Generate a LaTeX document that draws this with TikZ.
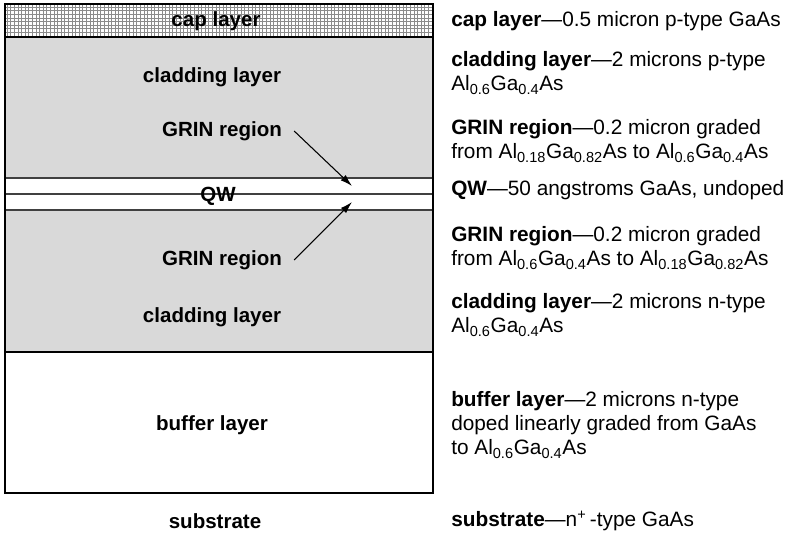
\documentclass[tikz,border=0pt]{standalone}
\usepackage{fontspec}
\setmainfont{Liberation Sans}
\usetikzlibrary{arrows.meta}
\begin{document}
\begin{tikzpicture}[x=0.75pt,y=-0.75pt,
  lbl/.style={font=\fontsize{15.4}{18}\selectfont\bfseries, inner sep=0pt},
  desc/.style={font=\fontsize{15.6}{18}\selectfont, align=left, anchor=west, inner sep=0pt},
  edge/.style={draw=black, line width=1.5pt},
  thin/.style={draw=black!75, line width=1.2pt},
  grinarrow/.style={draw=black, line width=0.8pt, -{Latex[length=9pt,width=5.5pt]}}]
\useasboundingbox (0,0) rectangle (798,540);
% fills
\fill[white] (5,4) rectangle (433,37);
\foreach \x in {7,10.6,...,433} \draw[black!45, line width=0.45pt] (\x,4) -- (\x,37);
\foreach \y in {7,10.6,...,37} \draw[black!45, line width=0.45pt] (5,\y) -- (433,\y);
\fill[black!15] (5,37) rectangle (433,178);
\fill[black!15] (5,210) rectangle (433,352);
% layer boundaries
\draw[edge] (5,37) -- (433,37);
\draw[thin] (5,178) -- (433,178);
\draw[thin] (5,194) -- (433,194);
\draw[thin] (5,210) -- (433,210);
\draw[edge] (5,352) -- (433,352);
\draw[edge] (5,4) rectangle (433,493);
% left labels
\node[lbl] (cap) at (216,21) {cap layer};
\node[lbl] (cladtop) at (212,77) {cladding layer};
\node[lbl] (grintop) at (222,131) {GRIN region};
\node[lbl] (qw) at (218,196) {QW};
\node[lbl] (grinbot) at (222,260) {GRIN region};
\node[lbl] (cladbot) at (212,317) {cladding layer};
\node[lbl] (buffer) at (212,425) {buffer layer};
\node[lbl] (substrate) at (215,521) {substrate};
% arrows
\coordinate (tiptop) at (352,186);
\coordinate (tipbot) at (352,202);
\draw[grinarrow] ([xshift=9pt]grintop.east) -- (tiptop);
\draw[grinarrow] ([xshift=9pt]grinbot.east) -- (tipbot);
% descriptions
\node[desc] (dcap) at (451,21) {\textbf{cap layer}—0.5 micron p-type GaAs};
\node[desc] (dcladtop) at (451,73) {\textbf{cladding layer}—2 microns p-type\\Al\textsubscript{0.6}Ga\textsubscript{0.4}As};
\node[desc] (dgrintop) at (451,141) {\textbf{GRIN region}—0.2 micron graded\\from Al\textsubscript{0.18}Ga\textsubscript{0.82}As to Al\textsubscript{0.6}Ga\textsubscript{0.4}As};
\node[desc] (dqw) at (451,190) {\textbf{QW}—50 angstroms GaAs, undoped};
\node[desc] (dgrinbot) at (451,248) {\textbf{GRIN region}—0.2 micron graded\\from Al\textsubscript{0.6}Ga\textsubscript{0.4}As to Al\textsubscript{0.18}Ga\textsubscript{0.82}As};
\node[desc] (dcladbot) at (451,315) {\textbf{cladding layer}—2 microns n-type\\Al\textsubscript{0.6}Ga\textsubscript{0.4}As};
\node[desc] (dbuffer) at (451,425) {\textbf{buffer layer}—2 microns n-type\\doped linearly graded from GaAs\\to Al\textsubscript{0.6}Ga\textsubscript{0.4}As};
\node[desc] (dsub) at (451,521) {\textbf{substrate}—n\textsuperscript{+}\,-type GaAs};
\end{tikzpicture}
\end{document}
